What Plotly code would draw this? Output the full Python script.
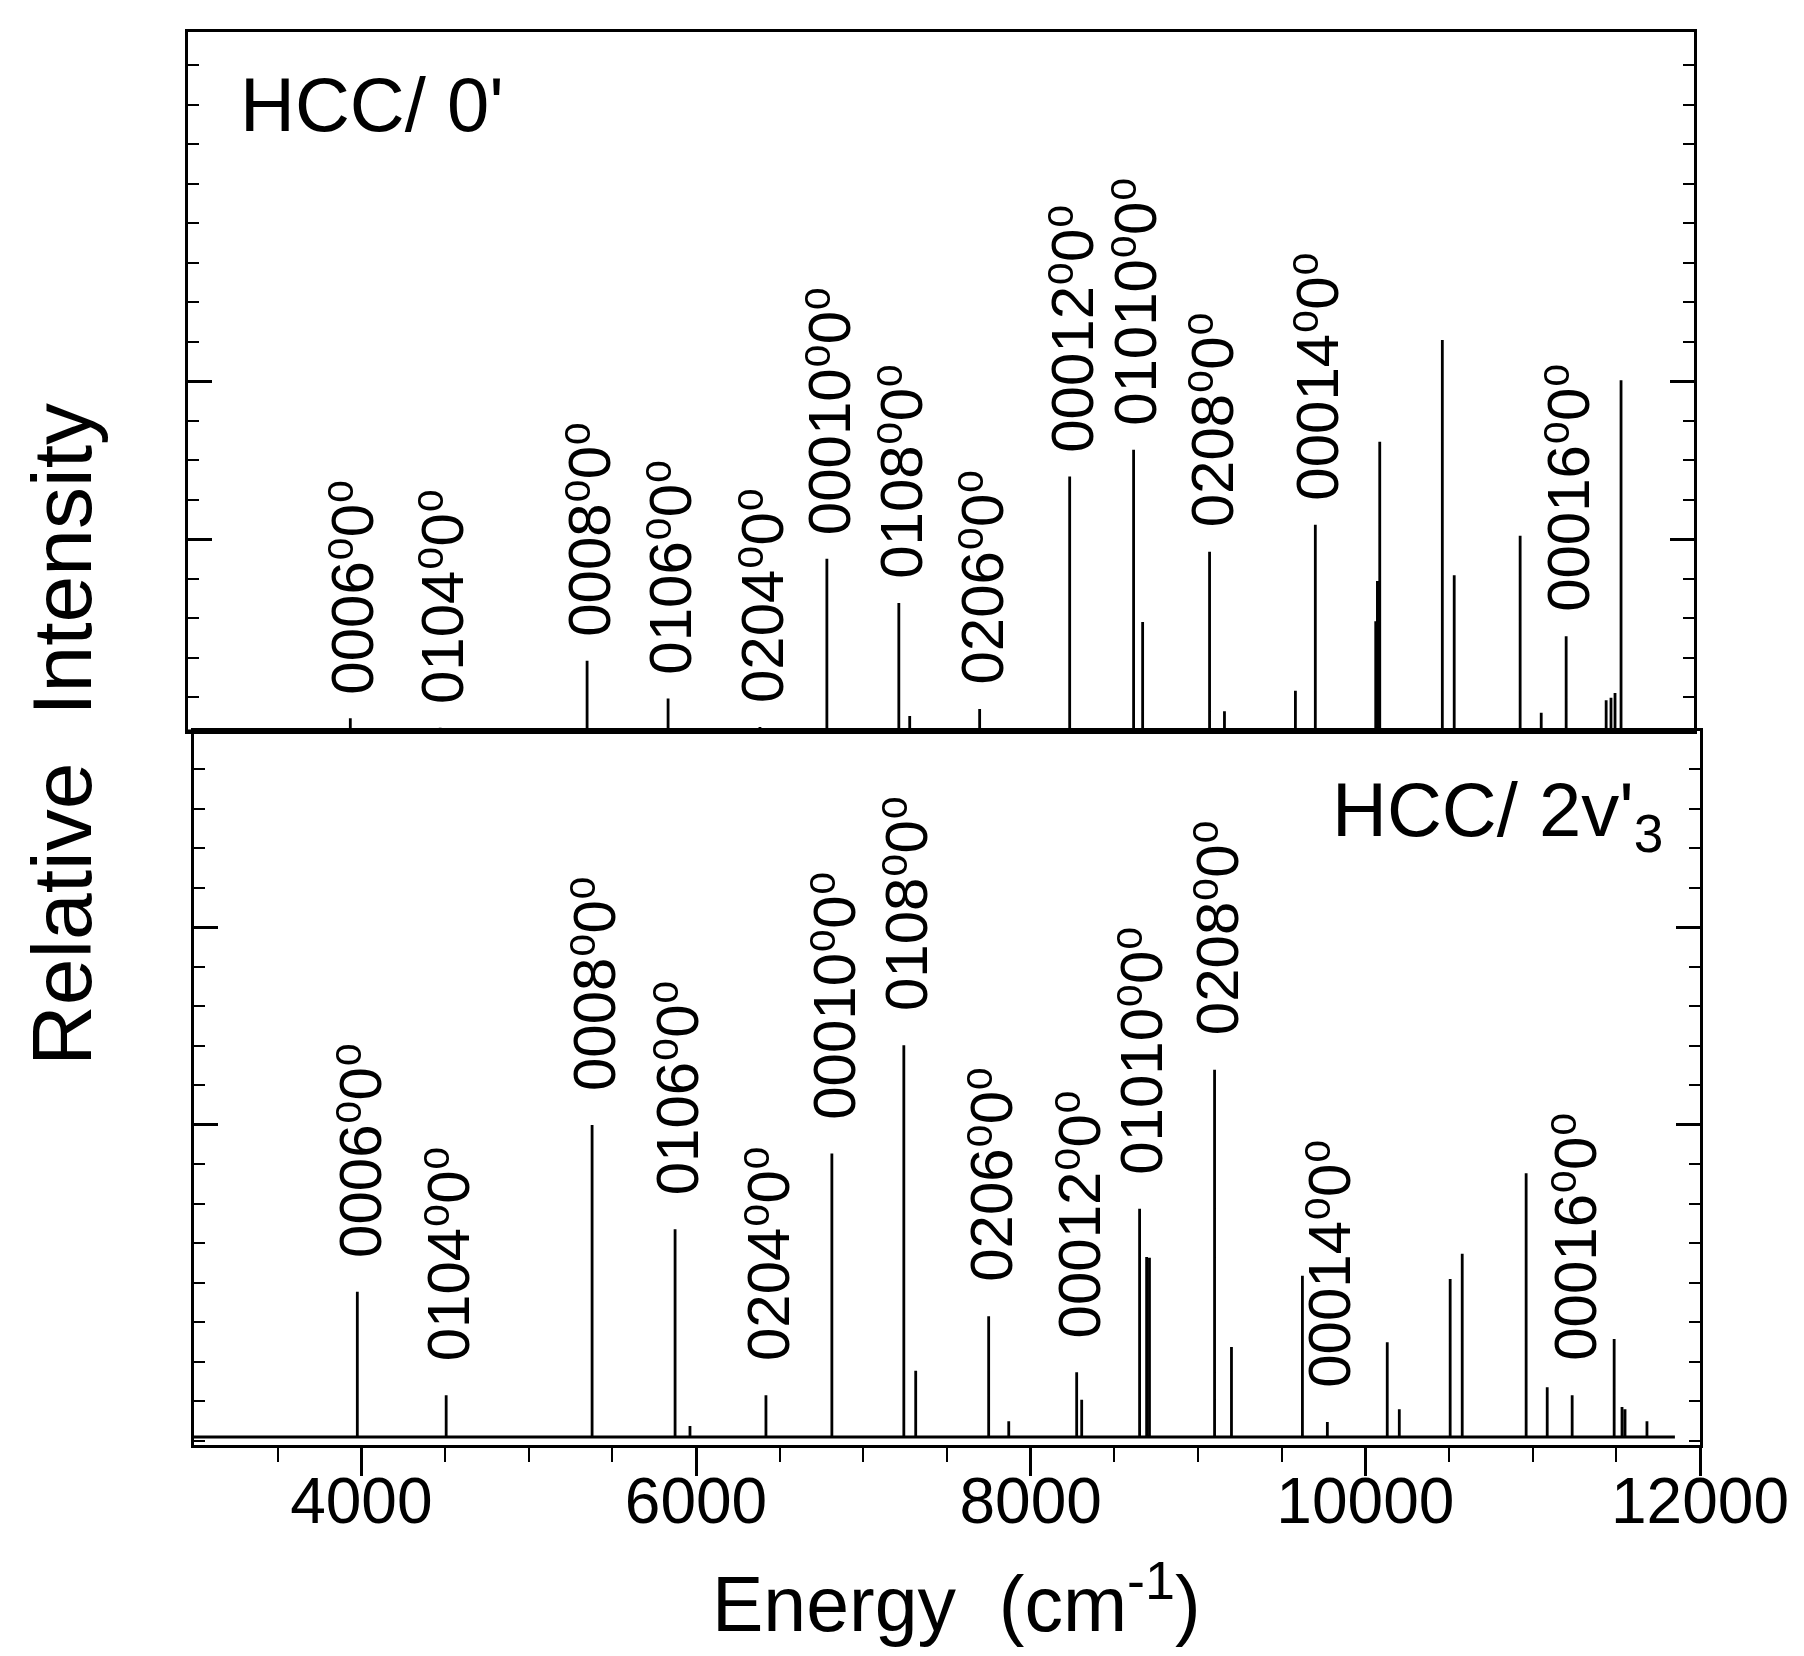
import plotly.graph_objects as go

# ---------------------------------------------------------------------------
# Stick spectra (line position in cm-1, relative intensity)
# ---------------------------------------------------------------------------
# HCC/ 0'  (upper panel)
energy_0 = [3970, 4507, 5385, 5869, 6418, 6818, 7248, 7313, 7731, 8269,
            8651, 8705, 9105, 9194, 9618, 9737, 10098, 10108, 10122, 10496,
            10567, 10961, 11087, 11236, 11475, 11504, 11528, 11564]
inten_0 = [1.6, 0.4, 8.9, 4.1, 0.5, 21.8, 16.2, 1.9, 2.8, 32.2,
           35.6, 13.8, 22.7, 2.5, 5.1, 26.1, 13.9, 19.0, 36.6, 49.5,
           19.7, 24.7, 2.3, 12.0, 3.9, 4.2, 4.8, 44.4]

# HCC/ 2v'3  (lower panel)
energy_2 = [3976, 4507, 5379, 5875, 5964, 6418, 6812, 7242, 7313, 7749,
            7869, 8275, 8305, 8651, 8693, 8710, 9099, 9200, 9624, 9773,
            10131, 10203, 10507, 10579, 10961, 11087, 11236, 11487, 11534,
            11552, 11683]
inten_2 = [18.4, 5.3, 39.5, 26.3, 1.4, 5.3, 35.9, 49.6, 8.4, 15.3,
           2.0, 8.2, 4.7, 28.9, 22.8, 22.7, 46.5, 11.4, 20.4, 1.9,
           12.0, 3.5, 20.0, 23.2, 33.4, 6.3, 5.3, 12.4, 3.8,
           3.5, 2.0]

# Vibrational assignments and the lines they belong to
assignments = ["0006⁰0⁰", "0104⁰0⁰", "0008⁰0⁰", "0106⁰0⁰", "0204⁰0⁰",
               "00010⁰0⁰", "0108⁰0⁰", "0206⁰0⁰", "00012⁰0⁰", "01010⁰0⁰",
               "0208⁰0⁰", "00014⁰0⁰", "00016⁰0⁰"]
assigned_energy_0 = [3970, 4507, 5385, 5869, 6418, 6818, 7248, 7731, 8269,
                     8651, 9105, 9737, 11236]
assigned_energy_2 = [3976, 4507, 5379, 5875, 6418, 6812, 7242, 7749, 8275,
                     8651, 9099, 9773, 11236]

panel_titles = ["HCC/ 0'", "HCC/ 2v'<sub>3</sub>"]
x_tick_values = [4000, 6000, 8000, 10000, 12000]
x_tick_text = ["4000", "6000", "8000", "10000", "12000"]

SCAN_START, SCAN_END = 3000, 11850
X_RANGE = [3000, 12000]

# ---------------------------------------------------------------------------
# Page geometry
# ---------------------------------------------------------------------------
FIG_W, FIG_H = 1804, 1656
ML, MR, MT, MB = 188, 104, 32, 211
PW = FIG_W - ML - MR
PH = FIG_H - MT - MB
SPLIT = (FIG_H - MB - 731) / PH          # divider between the two panels
PX_PER_UNIT = 7.9

FONT = "Liberation Sans, Arial, Helvetica, DejaVu Sans, sans-serif"


def paper_x(px):
    return (px - ML) / PW


def paper_y(py):
    return (FIG_H - MB - py) / PH


def stick_path(energies, intensities):
    xs, ys = [SCAN_START], [0.0]
    for e, i in sorted(zip(energies, intensities)):
        xs += [e, e, e]
        ys += [0.0, i, 0.0]
    xs.append(SCAN_END)
    ys.append(0.0)
    return xs, ys


fig = go.Figure()

x0, y0 = stick_path(energy_0, inten_0)
fig.add_trace(go.Scatter(x=x0, y=y0, mode="lines", xaxis="x2", yaxis="y2",
                         line=dict(color="black", width=2.8), showlegend=False,
                         hoverinfo="skip"))
x2, y2 = stick_path(energy_2, inten_2)
fig.add_trace(go.Scatter(x=x2, y=y2, mode="lines", xaxis="x", yaxis="y",
                         line=dict(color="black", width=2.8), showlegend=False,
                         hoverinfo="skip"))

# Assignment labels, written upward just above each assigned line
annotations = []
panels = [
    (energy_0, inten_0, assigned_energy_0, "x2", "y2", 22 / PX_PER_UNIT),
    (energy_2, inten_2, assigned_energy_2, "x", "y", 32 / PX_PER_UNIT),
]
for energies, intens, assigned, xr, yr, gap in panels:
    for text, e in zip(assignments, assigned):
        k = min(range(len(energies)), key=lambda j: abs(energies[j] - e))
        annotations.append(dict(
            x=e + 15, y=intens[k] + gap, xref=xr, yref=yr, text=text,
            textangle=-90, xanchor="center", yanchor="bottom",
            showarrow=False, font=dict(family=FONT, size=60, color="black")))

# Panel titles
annotations.append(dict(x=paper_x(238), y=paper_y(104.5), xref="paper",
                        yref="paper", text=panel_titles[0], xanchor="left",
                        yanchor="middle", showarrow=False,
                        font=dict(family=FONT, size=76, color="black")))
annotations.append(dict(x=paper_x(1665), y=paper_y(815), xref="paper",
                        yref="paper", text=panel_titles[1], xanchor="right",
                        yanchor="middle", showarrow=False,
                        font=dict(family=FONT, size=76, color="black")))

# Axis titles
annotations.append(dict(x=paper_x(956), y=paper_y(1598), xref="paper",
                        yref="paper", text="Energy  (cm<sup>-1</sup>)",
                        xanchor="center", yanchor="middle", showarrow=False,
                        font=dict(family=FONT, size=77, color="black")))
annotations.append(dict(x=paper_x(62), y=paper_y(735), xref="paper",
                        yref="paper", text="Relative\u00a0 Intensity",
                        textangle=-90, xanchor="center", yanchor="middle",
                        showarrow=False,
                        font=dict(family=FONT, size=84, color="black")))

axis_common = dict(showline=True, linecolor="black", linewidth=3,
                   showgrid=False, zeroline=False)

top_range = [0, (731 - MT) / PX_PER_UNIT]
bottom_units = (FIG_H - MB - 731) / PX_PER_UNIT
bottom_range = [-8 / PX_PER_UNIT, bottom_units - 8 / PX_PER_UNIT]


def minor_vals(start, stop, step):
    vals, v = [], start
    while v <= stop:
        vals.append(round(v, 3))
        v += step
    return vals


fig.update_layout(
    width=FIG_W, height=FIG_H,
    margin=dict(l=ML, r=MR, t=MT, b=MB),
    paper_bgcolor="white", plot_bgcolor="white",
    font=dict(family=FONT, color="black"),
    showlegend=False,
    xaxis=dict(domain=[6 / PW, 1], range=X_RANGE, anchor="y",
               mirror=True, ticks="outside", ticklen=28, tickwidth=3,
               tickcolor="black", tickmode="array", tickvals=x_tick_values,
               ticktext=x_tick_text,
               tickfont=dict(family=FONT, size=64, color="black"),
               ticklabelstandoff=-30,
               minor=dict(tickmode="array",
                          tickvals=minor_vals(3500, 11500, 500),
                          ticks="outside", ticklen=14, tickwidth=2,
                          tickcolor="black"),
               **axis_common),
    yaxis=dict(domain=[0, SPLIT], range=bottom_range, anchor="x",
               mirror="ticks", ticks="inside", ticklen=24, tickwidth=3,
               tickcolor="black", tickmode="array", tickvals=[39.5, 64.5],
               showticklabels=False,
               minor=dict(tickmode="array",
                          tickvals=minor_vals(-0.5, 89.0, 5),
                          ticks="inside", ticklen=11, tickwidth=2,
                          tickcolor="black"),
               **axis_common),
    xaxis2=dict(domain=[0, (PW - 6) / PW], range=X_RANGE, anchor="y2",
                mirror=True, ticks="", showticklabels=False,
                **axis_common),
    yaxis2=dict(domain=[SPLIT, 1], range=top_range, anchor="x2",
                mirror="ticks", ticks="inside", ticklen=24, tickwidth=3,
                tickcolor="black", tickmode="array", tickvals=[24.3, 44.3],
                showticklabels=False,
                minor=dict(tickmode="array",
                           tickvals=minor_vals(4.3, 88.0, 5),
                           ticks="inside", ticklen=11, tickwidth=2,
                           tickcolor="black"),
                **axis_common),
    annotations=annotations,
)

fig.write_html("out.html")
